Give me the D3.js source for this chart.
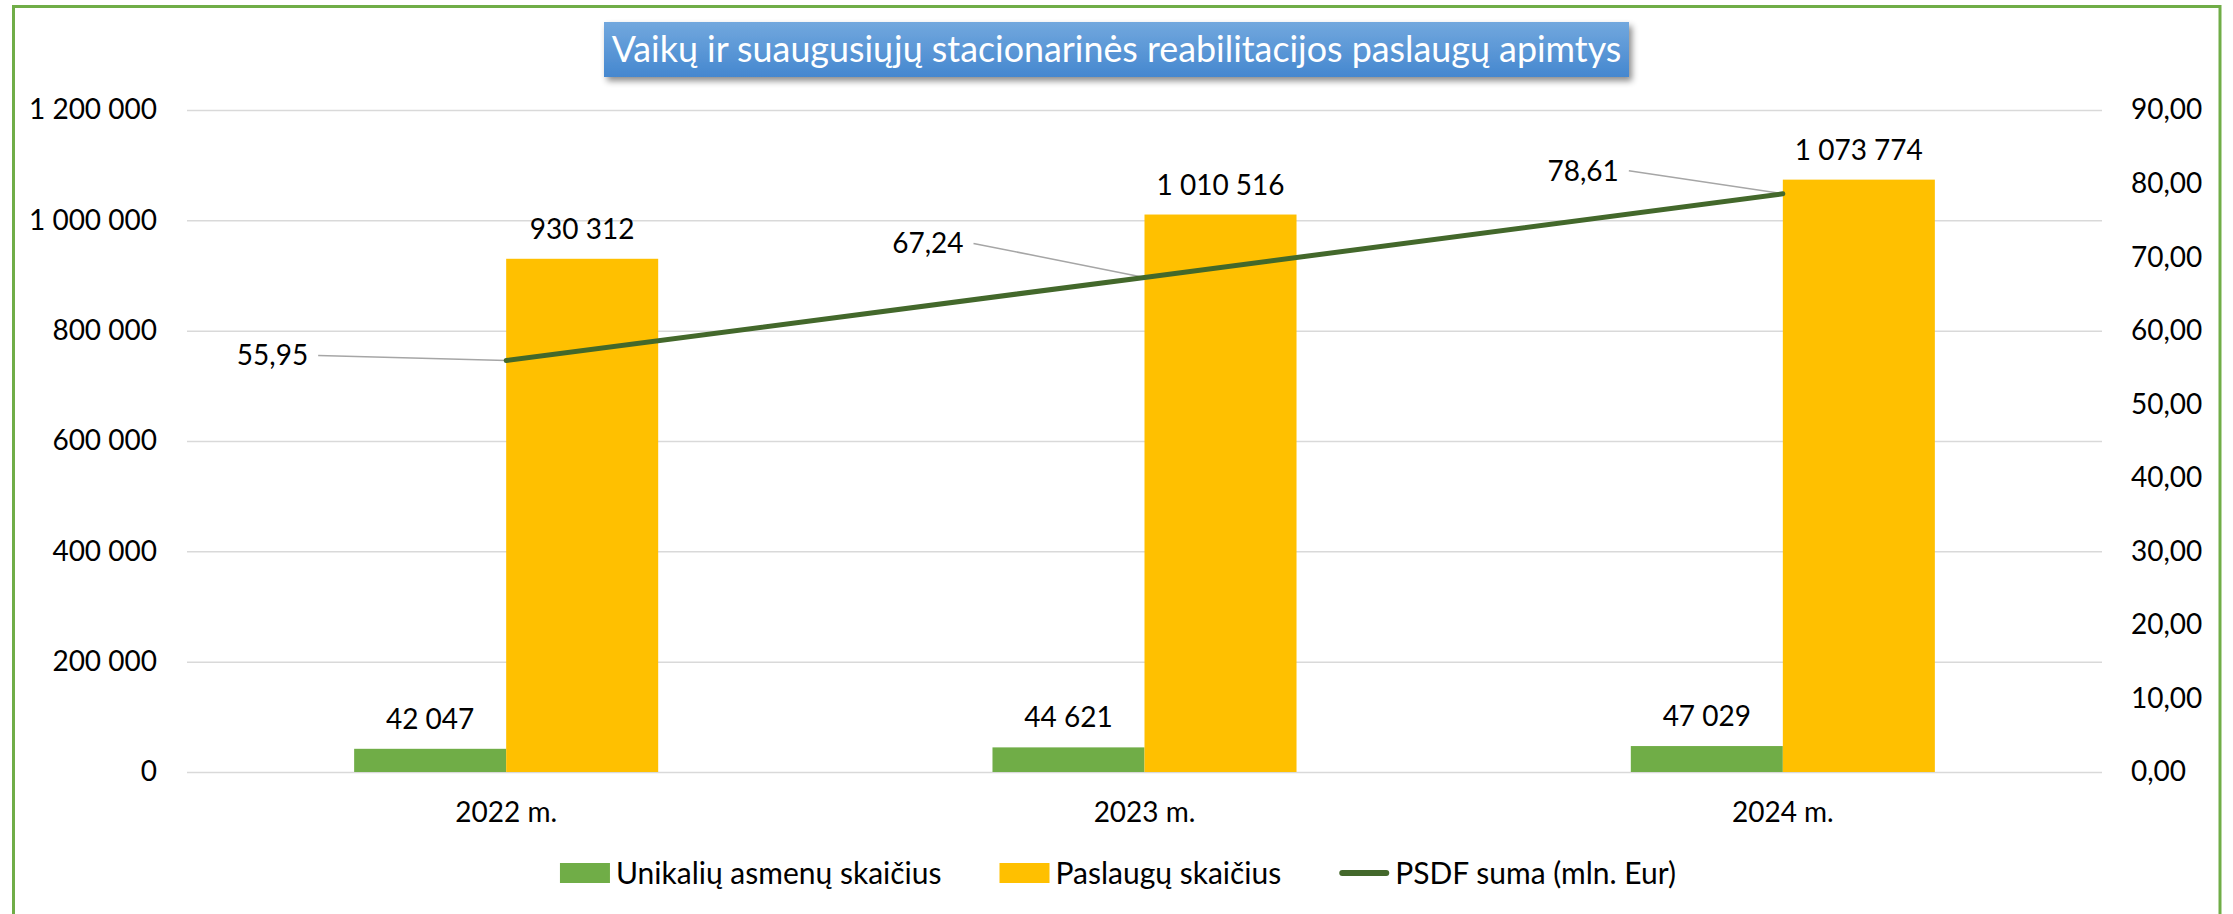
<!DOCTYPE html>
<html>
<head>
<meta charset="utf-8">
<script src="https://cdn.jsdelivr.net/npm/d3@7"></script>
<style>
  html, body { margin: 0; padding: 0; background: #ffffff; }
  svg { display: block; }
  text { font-family: Lato, "Open Sans", sans-serif; fill: #000; }
</style>
</head>
<body>
<svg id="chart" width="2233" height="914"></svg>
<script>
// ---------- DATA ----------
const categories = ["2022 m.", "2023 m.", "2024 m."];
const seriesNames = ["Unikalių asmenų skaičius", "Paslaugų skaičius", "PSDF suma (mln. Eur)"];
const uniquePersons = [42047, 44621, 47029];
const services = [930312, 1010516, 1073774];
const psdfSum = [55.95, 67.24, 78.61];
const leftTicks = [0, 200000, 400000, 600000, 800000, 1000000, 1200000];
const rightTicks = [0, 10, 20, 30, 40, 50, 60, 70, 80, 90];
const titleText = "Vaikų ir suaugusiųjų stacionarinės reabilitacijos paslaugų apimtys";

// ---------- LAYOUT / STYLE ----------
const W = 2233, H = 914;
const plot = { left: 187, right: 2102, top: 110, bottom: 772 };
const colors = { persons: "#70ad47", services: "#ffc000", line: "#43682b", grid: "#d9d9d9", border: "#70ad47" };
const fontSize = 28;
const legendFontSize = 30;
// label placement for the line labels (offset of label right edge from point)
const lineLabelOffsets = [{ dx: -198, dy: -5 }, { dx: -181, dy: -34 }, { dx: -164, dy: -23 }];

const loc = d3.formatLocale({ decimal: ",", thousands: " ", grouping: [3], currency: ["", ""] });
const fmtInt = loc.format(",.0f");
const fmtDec = loc.format(",.2f");

const svg = d3.select("#chart");

// defs: title gradient + shadow
const defs = svg.append("defs");
const grad = defs.append("linearGradient").attr("id", "titleGrad").attr("x1", 0).attr("y1", 0).attr("x2", 0).attr("y2", 1);
grad.append("stop").attr("offset", "0%").attr("stop-color", "#72a8de");
grad.append("stop").attr("offset", "100%").attr("stop-color", "#4587cf");
const filt = defs.append("filter").attr("id", "shadow").attr("x", "-5%").attr("y", "-30%").attr("width", "110%").attr("height", "170%");
filt.append("feDropShadow").attr("dx", 3).attr("dy", 4).attr("stdDeviation", 3).attr("flood-color", "#000").attr("flood-opacity", 0.45);

// outer border (bottom edge lies outside the picture)
svg.append("rect").attr("x", 0).attr("y", 0).attr("width", W).attr("height", H).attr("fill", "#fff");
svg.append("rect").attr("x", 13.5).attr("y", 6.5).attr("width", 2220 - 13.5).attr("height", 930)
  .attr("fill", "none").attr("stroke", colors.border).attr("stroke-width", 3);

// scales
const x0 = d3.scaleBand().domain(categories).range([plot.left, plot.right]).paddingInner(0.5237).paddingOuter(0.5237 / 2);
const x1 = d3.scaleBand().domain([0, 1]).range([0, x0.bandwidth()]).padding(0);
const yL = d3.scaleLinear().domain([0, 1200000]).range([plot.bottom, plot.top]);
const yR = d3.scaleLinear().domain([0, 90]).range([plot.bottom, plot.top]);
const cx = c => x0(c) + x0.bandwidth() / 2;

// gridlines
const grid = svg.append("g").attr("transform", `translate(${plot.left},0)`)
  .call(d3.axisLeft(yL).tickValues(leftTicks).tickSize(-(plot.right - plot.left)).tickFormat(""));
grid.select(".domain").remove();
grid.selectAll("line").attr("stroke", colors.grid).attr("stroke-width", 1.5);

// left axis
const axL = svg.append("g").attr("transform", `translate(${plot.left},0)`)
  .call(d3.axisLeft(yL).tickValues(leftTicks).tickSize(0).tickPadding(30).tickFormat(fmtInt));
axL.select(".domain").remove();
axL.selectAll("text").attr("font-size", fontSize).attr("font-family", "Lato, sans-serif").attr("fill", "#000");

// right axis
const axR = svg.append("g").attr("transform", `translate(${plot.right},0)`)
  .call(d3.axisRight(yR).tickValues(rightTicks).tickSize(0).tickPadding(29).tickFormat(fmtDec));
axR.select(".domain").remove();
axR.selectAll("text").attr("font-size", fontSize).attr("font-family", "Lato, sans-serif").attr("fill", "#000");

// x axis labels
const axX = svg.append("g").attr("transform", `translate(0,${plot.bottom})`)
  .call(d3.axisBottom(x0).tickSize(0).tickPadding(30));
axX.select(".domain").remove();
axX.selectAll("text").attr("font-size", fontSize).attr("font-family", "Lato, sans-serif").attr("fill", "#000");

// bars
const barData = [];
categories.forEach((c, i) => {
  barData.push({ c, s: 0, v: uniquePersons[i], color: colors.persons });
  barData.push({ c, s: 1, v: services[i], color: colors.services });
});
svg.append("g").selectAll("rect").data(barData).join("rect")
  .attr("x", d => x0(d.c) + x1(d.s))
  .attr("width", x1.bandwidth())
  .attr("y", d => yL(d.v))
  .attr("height", d => yL(0) - yL(d.v))
  .attr("fill", d => d.color);

// bar labels
svg.append("g").selectAll("text").data(barData).join("text")
  .attr("x", d => x0(d.c) + x1(d.s) + x1.bandwidth() / 2)
  .attr("y", d => yL(d.v) - 20)
  .attr("text-anchor", "middle")
  .attr("font-size", fontSize)
  .text(d => fmtInt(d.v));

// line
const linePts = categories.map((c, i) => ({ c, v: psdfSum[i], x: cx(c), y: yR(psdfSum[i]) }));
// leader lines + labels
const lblG = svg.append("g");
linePts.forEach((p, i) => {
  const o = lineLabelOffsets[i];
  lblG.append("line")
    .attr("x1", p.x + o.dx + 10).attr("y1", p.y + o.dy)
    .attr("x2", p.x).attr("y2", p.y)
    .attr("stroke", "#a6a6a6").attr("stroke-width", 1.5);
  lblG.append("text")
    .attr("x", p.x + o.dx).attr("y", p.y + o.dy)
    .attr("dy", "0.35em")
    .attr("text-anchor", "end")
    .attr("font-size", fontSize)
    .text(fmtDec(p.v));
});
svg.append("path").datum(linePts)
  .attr("d", d3.line().x(d => d.x).y(d => d.y))
  .attr("fill", "none").attr("stroke", colors.line).attr("stroke-width", 5).attr("stroke-linecap", "round");

// title
svg.append("rect").attr("x", 604).attr("y", 22).attr("width", 1629 - 604).attr("height", 77 - 22)
  .attr("fill", "url(#titleGrad)").attr("filter", "url(#shadow)");
const title = svg.append("text").attr("x", (604 + 1629) / 2).attr("y", 49).attr("dy", "0.35em")
  .attr("text-anchor", "middle").attr("font-size", 30).style("fill", "#fff").text(titleText);
const tw = title.node().getComputedTextLength();
title.attr("font-size", 30 * 1010 / tw);

// legend
const legendItems = seriesNames.map((n, i) => ({ name: n, type: i < 2 ? "rect" : "line", color: [colors.persons, colors.services, colors.line][i] }));
const legG = svg.append("g");
let lx = 0;
const legY = 873;
legendItems.forEach(it => {
  const g = legG.append("g").attr("transform", `translate(${lx},0)`);
  if (it.type === "rect") {
    g.append("rect").attr("x", 0).attr("y", legY - 10).attr("width", 50).attr("height", 20).attr("fill", it.color);
  } else {
    g.append("line").attr("x1", 3).attr("x2", 47).attr("y1", legY).attr("y2", legY)
      .attr("stroke", it.color).attr("stroke-width", 6).attr("stroke-linecap", "round");
  }
  const t = g.append("text").attr("x", 56).attr("y", legY).attr("dy", "0.35em").attr("font-size", legendFontSize).text(it.name);
  lx += 56 + t.node().getComputedTextLength() + 58;
});
const legW = lx - 58;
legG.attr("transform", `translate(${1118 - legW / 2},0)`);
</script>
</body>
</html>
